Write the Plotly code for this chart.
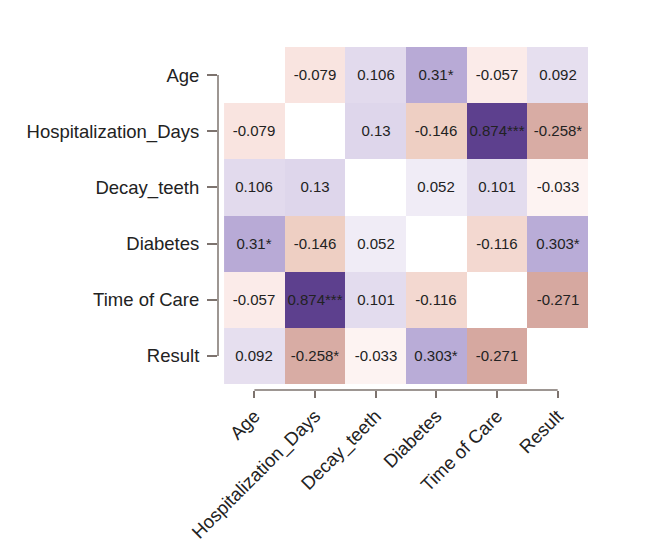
import plotly.graph_objects as go

variables = ["Age", "Hospitalization_Days", "Decay_teeth", "Diabetes", "Time of Care", "Result"]

# lower-triangle correlation values (row i, col j with j < i)
corr_lower = [
    [],
    [-0.079],
    [0.106, 0.13],
    [0.31, -0.146, 0.052],
    [-0.057, 0.874, 0.101, -0.116],
    [0.092, -0.258, -0.033, 0.303, -0.271],
]
stars_lower = [
    [],
    [""],
    ["", ""],
    ["*", "", ""],
    ["", "***", "", ""],
    ["", "*", "", "*", ""],
]

n = len(variables)
z = [[None] * n for _ in range(n)]
txt = [[""] * n for _ in range(n)]
for i in range(n):
    for j in range(i):
        v = corr_lower[i][j]
        s = stars_lower[i][j]
        z[i][j] = v
        z[j][i] = v
        txt[i][j] = f"{v}{s}"
        txt[j][i] = f"{v}{s}"

zmin, zmax = -1.0, 1.0
stops = [
    (-1.0, "rgb(140,60,50)"),
    (-0.271, "rgb(214,168,160)"),
    (-0.146, "rgb(238,207,195)"),
    (-0.079, "rgb(249,228,224)"),
    (-0.033, "rgb(253,243,242)"),
    (0.0, "rgb(255,255,255)"),
    (0.052, "rgb(240,236,246)"),
    (0.106, "rgb(226,218,237)"),
    (0.13, "rgb(222,214,235)"),
    (0.31, "rgb(184,170,214)"),
    (0.874, "rgb(93,64,142)"),
    (1.0, "rgb(75,45,125)"),
]
colorscale = [[(v - zmin) / (zmax - zmin), c] for v, c in stops]

idx = list(range(n))
fig = go.Figure(go.Heatmap(
    x=idx, y=idx, z=z, text=txt, texttemplate="%{text}",
    textfont=dict(family="Liberation Sans, Arial", size=15, color="#222"),
    colorscale=colorscale, zmin=zmin, zmax=zmax, showscale=False,
    hoverongaps=False,
))

axis_col = "rgb(125,115,110)"
fig.update_layout(
    width=650, height=554,
    margin=dict(l=210, r=70, t=39, b=172),
    plot_bgcolor="white", paper_bgcolor="white",
    font=dict(family="Liberation Sans, Arial", size=18.5, color="#222"),
    xaxis=dict(range=[-0.6, 5.5], tickvals=idx, ticktext=variables, tickangle=-45,
               ticks="outside", ticklen=7, tickwidth=1.5, tickcolor=axis_col,
               showgrid=False, zeroline=False, showline=False),
    yaxis=dict(range=[5.607, -0.5], tickvals=idx, ticktext=variables,
               ticks="outside", ticklen=10, tickwidth=1.5, tickcolor=axis_col,
               ticklabelstandoff=4,
               showgrid=False, zeroline=False, showline=False),
    shapes=[
        dict(type="line", xref="paper", yref="y", x0=0, x1=0, y0=0, y1=n - 1,
             line=dict(color=axis_col, width=1.5)),
        dict(type="line", xref="x", yref="paper", x0=0, x1=n - 1, y0=0, y1=0,
             line=dict(color=axis_col, width=1.5)),
    ],
)

fig.write_html("out.html")
